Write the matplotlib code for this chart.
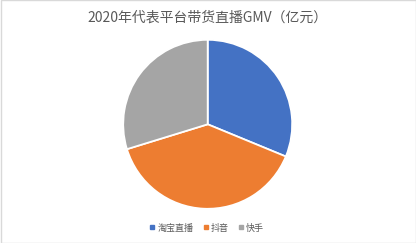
import matplotlib
matplotlib.use("Agg")
import matplotlib.pyplot as plt
from matplotlib.lines import Line2D
from matplotlib.patches import Rectangle

plt.rcParams['font.family'] = ['Noto Sans CJK SC', 'DejaVu Sans']

title = "2020年代表平台带货直播GMV（亿元）"
categories = ["淘宝直播", "抖音", "快手"]
values = [4000, 5000, 3812]
colors = ["#4472C4", "#ED7D31", "#A5A5A5"]

W, H = 416, 243
fig = plt.figure(figsize=(W / 100, H / 100), dpi=100)
fig.patch.set_facecolor("white")
fig.add_artist(Rectangle((0.5 / W, 0.5 / H), 1 - 1.0 / W, 1 - 1.0 / H, transform=fig.transFigure,
                         fill=False, edgecolor="#D9D9D9", linewidth=1))

cx, cy, r = 207.7, 124.3, 84.5
ax = fig.add_axes([(cx - r) / W, 1 - (cy + r) / H, 2 * r / W, 2 * r / H])
ax.pie(values, colors=colors, startangle=90, counterclock=False,
       wedgeprops=dict(edgecolor="white", linewidth=1.3))
ax.set_xlim(-1, 1)
ax.set_ylim(-1, 1)
ax.axis("off")

fig.text(0.5, 1 - 18 / H, title, ha="center", va="center", fontsize=10, color="#595959")

handles = [Line2D([], [], marker="s", linestyle="none", markersize=2.5, color=c) for c in colors]
fig.legend(handles, categories, loc="center", bbox_to_anchor=(207 / W, 1 - 228 / H), ncol=3,
           frameon=False, fontsize=6.5, labelcolor="#595959", handlelength=0.6, handletextpad=0.3,
           columnspacing=1.0)

fig.savefig("out.png", dpi=100)
